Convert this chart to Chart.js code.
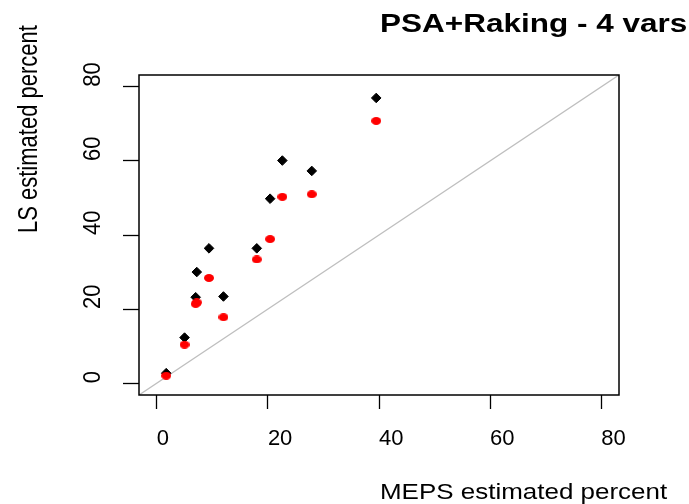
<!DOCTYPE html>
<html lang="en">
<head>
<meta charset="UTF-8">
<title>PSA+Raking - 4 vars</title>
<script src="https://cdn.jsdelivr.net/npm/chart.js"></script>
<style>
  body { margin: 0; background: #fff; }
  canvas { display: block; }
</style>
</head>
<body>
<canvas id="scatter" width="689" height="504"></canvas>
<script>
// MEPS estimated percent (x), shared by both series
const mepsPct = [1.7, 5.0, 7.0, 7.2, 9.4, 12.0, 18.0, 20.4, 22.6, 27.9, 39.5];
// LS estimated percent, black diamonds
const lsPctA = [2.7, 12.3, 23.2, 30.0, 36.4, 23.4, 36.4, 49.8, 60.1, 57.3, 77.0];
// LS estimated percent, red dots
const lsPctB = [2.0, 10.4, 21.4, 21.8, 28.4, 17.8, 33.4, 38.9, 50.3, 51.0, 70.8];
const tickVals = [0, 20, 40, 60, 80];
const axisMin = -3.2;
const axisMax = 83.2;

const fontFam = "'Liberation Sans', Arial, sans-serif";

function toPoints(xs, ys) {
    return xs.map((x, i) => ({ x: x, y: ys[i] }));
}

// small red ellipse used as point marker
function dotImage(w, h, color) {
    const c = document.createElement('canvas');
    c.width = w;
    c.height = h;
    const g = c.getContext('2d');
    g.fillStyle = color;
    g.beginPath();
    g.ellipse(w / 2, h / 2, w / 2, h / 2, 0, 0, 2 * Math.PI);
    g.fill();
    return c;
}

// frame, rotated labels and titles, drawn R style
const rPlot = {
    id: 'rPlot',
    afterDraw(chart) {
        const { ctx, chartArea: a, scales } = chart;
        ctx.save();
        ctx.strokeStyle = '#000';
        ctx.lineWidth = 1.5;
        ctx.strokeRect(a.left, a.top, a.right - a.left, a.bottom - a.top);

        ctx.fillStyle = '#000';
        ctx.textAlign = 'left';
        ctx.textBaseline = 'alphabetic';

        // y tick labels, reading upward from the tick
        ctx.font = '22px ' + fontFam;
        scales.y.ticks.forEach(t => {
            const py = scales.y.getPixelForValue(t.value);
            ctx.save();
            ctx.translate(100, py);
            ctx.rotate(-Math.PI / 2);
            ctx.scale(1, 1.06);
            ctx.fillText(String(t.value), 0, 0);
            ctx.restore();
        });

        // y axis title
        ctx.save();
        ctx.translate(37, 233);
        ctx.rotate(-Math.PI / 2);
        ctx.scale(1, 1.27);
        ctx.fillText('LS estimated percent', 0, 0);
        ctx.restore();

        // x axis title
        ctx.save();
        ctx.translate(380, 499);
        ctx.scale(1.18, 1);
        ctx.fillText('MEPS estimated percent', 0, 0);
        ctx.restore();

        // main title
        ctx.font = 'bold 25px ' + fontFam;
        ctx.save();
        ctx.translate(380, 32);
        ctx.scale(1.26, 1);
        ctx.fillText('PSA+Raking - 4 vars', 0, 0);
        ctx.restore();

        ctx.restore();
    }
};

const ctx = document.getElementById('scatter').getContext('2d');
const chart = new Chart(ctx, {
    type: 'scatter',
    data: {
        datasets: [
            {
                label: 'y = x',
                type: 'line',
                data: [{ x: axisMin, y: axisMin }, { x: axisMax, y: axisMax }],
                borderColor: '#bebebe',
                borderWidth: 1.3,
                pointRadius: 0,
                order: 3
            },
            {
                label: 'LS',
                data: toPoints(mepsPct, lsPctA),
                pointStyle: 'rectRot',
                pointRadius: 4.8,
                backgroundColor: '#000',
                borderColor: '#000',
                borderWidth: 1,
                order: 2
            },
            {
                label: 'LS adjusted',
                data: toPoints(mepsPct, lsPctB),
                pointStyle: dotImage(10, 8, '#ff0000'),
                pointRadius: 5,
                order: 1
            }
        ]
    },
    options: {
        responsive: false,
        animation: false,
        events: [],
        layout: { padding: { top: 75, right: 70, left: 0, bottom: 0 } },
        plugins: {
            legend: { display: false },
            tooltip: { enabled: false }
        },
        scales: {
            x: {
                type: 'linear',
                min: axisMin,
                max: axisMax,
                afterBuildTicks: s => { s.ticks = tickVals.map(v => ({ value: v })); },
                afterFit: s => { s.height = 109; },
                grid: { drawOnChartArea: false, tickLength: 14, tickColor: '#000', tickWidth: 1.3 },
                border: { display: false },
                ticks: {
                    align: 'start',
                    padding: 16.6,
                    maxRotation: 0,
                    autoSkip: false,
                    color: '#000',
                    font: { family: fontFam, size: 22 }
                }
            },
            y: {
                type: 'linear',
                min: axisMin,
                max: axisMax,
                afterBuildTicks: s => { s.ticks = tickVals.map(v => ({ value: v })); },
                afterFit: s => { s.width = 139; },
                grid: { drawOnChartArea: false, tickLength: 16, tickColor: '#000', tickWidth: 1.3 },
                border: { display: false },
                ticks: {
                    color: 'rgba(0,0,0,0)',
                    autoSkip: false,
                    font: { family: fontFam, size: 22 }
                }
            }
        }
    },
    plugins: [rPlot]
});
</script>
</body>
</html>
